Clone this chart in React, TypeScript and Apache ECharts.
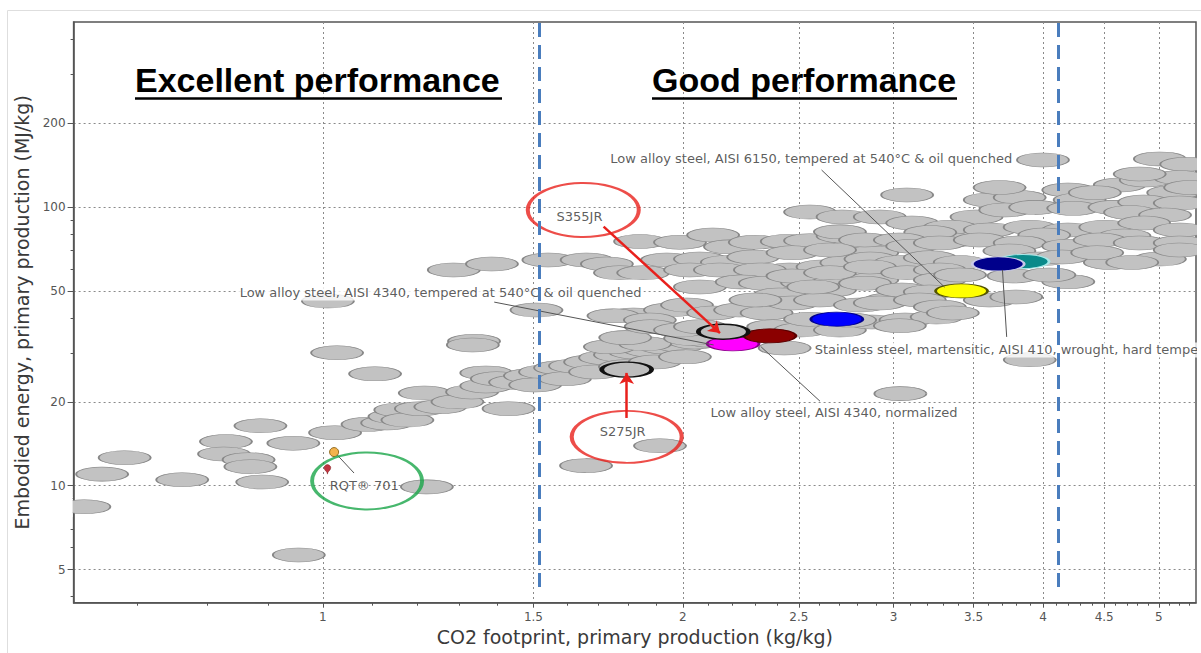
import React, { useEffect, useRef } from "react";
import * as echarts from "echarts";

// ---------- axes ----------
const xMajorTicks = [1, 1.5, 2, 2.5, 3, 3.5, 4, 4.5, 5];
const xMinorTicks = [0.7, 0.8, 0.9, 1.1, 1.2, 1.3, 1.4, 1.6, 1.7, 1.8, 1.9, 2.1, 2.2, 2.3, 2.4, 2.6, 2.7, 2.8, 2.9, 3.1, 3.2, 3.3, 3.4, 3.6, 3.7, 3.8, 3.9, 4.1, 4.2, 4.3, 4.4, 4.6, 4.7, 4.8, 4.9, 5.1, 5.2, 5.3];
const yMajorTicks = [5, 10, 20, 50, 100, 200];
const yMinorTicks = [4, 6, 7, 8, 9, 30, 40, 60, 70, 80, 90, 300, 400];
const xRange = [0.619, 5.37];
const yRange = [3.8, 462];
const xTitle = "CO2 footprint, primary production (kg/kg)";
const yTitle = "Embodied energy, primary production (MJ/kg)";

// performance boundaries (CO2 footprint) and their vertical extent (MJ/kg)
const boundaries = [1.518, 4.12];
const boundarySpan = [4.33, 462];

// ---------- materials: [CO2 kg/kg, energy MJ/kg] ----------
const grayLow: [number, number][] = [
  [0.632, 8.4], [0.654, 11.0], [0.683, 12.6], [0.763, 10.5], [0.83, 14.4], [0.827, 13.0],
  [0.867, 12.4], [0.87, 11.7], [0.887, 16.4], [0.89, 10.3], [0.945, 14.2], [1.024, 15.5],
  [0.955, 5.64], [1.028, 30.0], [1.106, 25.2], [1.222, 9.9], [1.338, 33.0], [1.335, 32.0],
  [1.37, 25.4], [1.01, 46], [1.287, 59.5], [1.385, 62.5], [1.544, 64.6], [1.662, 64.6],
  [1.728, 62.5], [1.772, 58.1], [1.853, 58.1], [1.509, 42.7], [1.914, 13.9], [1.66, 11.8],
  [3.04, 21.4], [3.9, 28.3], [3.08, 110.6], [4.0, 147.7], [5.01, 149], [5.27, 142.5],
];
const grayBand: [number, number][] = [
  [1.09, 16.6], [1.132, 16.8], [1.148, 17.7], [1.161, 18.7], [1.177, 17.2], [1.208, 18.9],
  [1.217, 21.5], [1.254, 19.2], [1.296, 20.0], [1.333, 21.7], [1.37, 22.8], [1.398, 24.2],
  [1.43, 18.9], [1.448, 23.5], [1.49, 24.8], [1.534, 25.6], [1.505, 23.0], [1.579, 26.5],
  [1.594, 24.2], [1.625, 26.9], [1.673, 27.8], [1.689, 25.6], [1.722, 28.8], [1.772, 29.5],
  [1.789, 26.7], [1.824, 30.2], [1.877, 30.7], [1.895, 27.8], [1.932, 31.5], [1.989, 32.0],
  [2.008, 29.0], [2.047, 32.8], [2.107, 33.3], [1.738, 31.5], [1.86, 32.3], [2.028, 33.8],
];
const grayMid: [number, number][] = [
  [1.842, 75.3], [1.989, 74.8], [2.12, 79.4], [2.19, 72.0], [2.297, 74.8], [2.443, 75.3], [2.555, 75.8], [2.72, 78.8],
  [1.94, 64.6], [2.067, 65.1], [2.177, 63.3], [2.29, 66.2], [2.028, 59.5], [2.458, 59.5], [2.617, 61.0], [2.74, 63.2], [2.88, 68.6],
  [2.148, 59.5], [2.32, 59.5],
  [2.067, 51.7], [2.24, 53.9], [2.342, 53.3], [2.54, 53.6], [2.706, 54.8], [2.88, 54.8], [2.655, 50.4], [2.41, 48.4],
  [1.82, 41.0], [1.951, 42.7], [2.016, 44.5], [2.12, 41.7], [2.233, 42.7], [2.35, 41.7], [2.472, 45.3],
  [2.604, 46.4], [2.812, 44.5], [2.979, 46.4], [1.75, 40.7], [1.877, 39.3], [2.3, 46.4],
  [1.79, 34.0], [1.88, 37.2], [1.989, 36.2], [2.067, 37.2], [2.38, 37.2], [2.506, 36.2], [2.706, 36.2],
  [2.88, 38.7], [3.07, 39.3], [3.26, 40.3], [2.433, 31.2], [2.76, 39.3], [2.555, 39.6],
];
const grayHigh: [number, number][] = [
  [3.611, 106.1], [3.825, 108.3], [4.2, 115.2], [4.293, 106.1], [4.638, 120.1], [4.875, 125.1], [5.205, 127.7], [5.14, 112.7], [4.819, 131.5],
  [3.68, 117.6], [4.42, 112.7], [5.31, 117.6],
  [2.555, 96.0], [2.72, 92.2], [2.922, 92.2], [3.52, 92.2], [3.72, 97.7], [3.94, 99.8], [4.24, 99.0], [4.59, 99.8], [4.86, 104.3], [5.205, 103.4],
  [4.73, 95.7], [5.06, 93.7],
  [2.706, 81.5], [2.84, 76.2], [3.11, 87.7], [3.344, 84.7], [3.611, 82.8], [3.899, 84.7], [4.2, 82.8], [4.51, 84.7], [4.86, 87.7], [5.205, 82.8], [3.363, 76.2],
  [4.01, 79.4], [4.68, 78.8], [3.22, 81.1],
  [2.47, 68.6], [2.655, 70.2], [3.037, 76.2], [3.11, 72.4], [3.28, 74.4], [3.542, 76.2], [3.825, 74.4], [4.2, 72.4], [4.461, 76.2], [4.819, 74.4], [5.205, 74.4],
  [3.75, 69.6], [4.55, 63.3], [5.01, 65.1], [2.87, 65.1], [3.04, 63.3],
  [3.217, 65.8], [3.408, 63.3], [3.975, 65.1], [4.15, 66.2], [4.44, 68.6], [4.75, 63.3], [5.205, 70.2],
  [2.47, 56.6], [2.655, 58.1], [2.867, 61.0], [3.08, 58.1], [3.28, 59.5], [3.28, 54.8], [3.78, 56.6], [4.2, 54.0],
  [3.41, 57.1], [4.05, 57.1],
  [2.57, 51.7], [2.84, 53.3], [3.05, 50.4], [3.217, 49.6], [3.611, 46.4], [3.8, 47.6],
  [2.922, 45.3], [3.156, 46.4], [3.28, 43.8], [3.037, 37.5], [3.363, 41.7],
];
// S355JR and S275JR themselves (grey, circled)
const grayMarked: [number, number][] = [[2.162, 35.7], [1.795, 26.1]];

// highlighted grades
const highlightNames = ["AISI 4340 tempered", "AISI 4340 normalized", "Low alloy steel (blue)", "AISI 6150 tempered", "AISI 410 (teal)", "AISI 410 hard tempered"];
const highlightCO2 = [2.203, 2.365, 2.69, 3.42, 3.85, 3.67];
const highlightEnergy = [32.3, 34.5, 39.6, 50.0, 63.8, 62.5];

// RQT 701 markers
const rqtCO2 = [1.022, 1.009];
const rqtEnergy = [13.2, 11.0];

// callout texts and their anchors
const calloutTexts = [
  "Low alloy steel, AISI 6150, tempered at 540°C & oil quenched",
  "Low alloy steel, AISI 4340, tempered at 540°C & oil quenched",
  "Stainless steel, martensitic, AISI 410, wrought, hard tempe",
  "Low alloy steel, AISI 4340, normalized",
];
const calloutAnchors: [number, number][] = [[1.731, 148.9], [0.848, 49.2], [2.565, 30.7], [2.099, 18.3]];
const leaderLines: [number, number][][] = [
  [[2.612, 135.9], [3.31, 51.6]],
  [[1.391, 45.6], [2.122, 32.0]],
  [[3.7, 59.5], [3.73, 34.2]],
  [[2.325, 31.5], [2.604, 20.1]],
  [[1.028, 12.9], [1.062, 11.1]],
];
const gradeTexts = ["S355JR", "S275JR", "RQT® 701"];
const gradeTextAt: [number, number][] = [[1.639, 92.2], [1.781, 15.6], [1.083, 10.0]];
const gradeRings: [number, number][] = [[1.651, 97.7], [1.795, 14.97], [1.089, 10.4]];
const gradeArrows: [number, number][][] = [
  [[1.717, 85.1], [2.148, 35.3]],
  [[1.795, 17.5], [1.795, 25.4]],
];

const L = (v: number) => Math.log10(v);
const P = (p: [number, number]) => [L(p[0]), L(p[1])];
const fmt = (ticks: number[]) => (v: number) => {
  const t = ticks.find((k) => Math.abs(L(k) - v) < 1e-6);
  return t === undefined ? "" : String(t);
};

const FONT = "'DejaVu Sans', Verdana, sans-serif";

export default function App() {
  const ref = useRef<HTMLDivElement>(null);
  useEffect(() => {
    document.body.style.margin = "0";
    document.body.style.overflow = "hidden";
    const chart = echarts.init(ref.current!, null, { renderer: "svg" });

    const highlightStyle: Record<string, [string, string]> = {
      "AISI 4340 tempered": ["#ff00ff", "#8a008a"],
      "AISI 4340 normalized": ["#8b0000", "#5a0000"],
      "Low alloy steel (blue)": ["#0000ff", "#000090"],
      "AISI 6150 tempered": ["#ffff00", "#555500"],
      "AISI 410 (teal)": ["#0a8a8a", "#a8e8e8"],
      "AISI 410 hard tempered": ["#00008b", "#c8c8e8"],
    };

    const axisLineStyle = { color: "#555", width: 1.5 };
    const option: any = {
      animation: false,
      textStyle: { fontFamily: FONT },
      grid: {
        left: 73.6, top: 22, right: 5, bottom: 50.3,
        show: true, borderColor: "#555", borderWidth: 1.5, backgroundColor: "#fff",
        outerBoundsMode: "none", containLabel: false,
      },
      xAxis: [
        {
          type: "value", min: L(xRange[0]), max: L(xRange[1]),
          name: xTitle, nameLocation: "middle", nameGap: 24,
          nameTextStyle: { fontSize: 19, color: "#3a3a3a", fontFamily: FONT },
          axisLine: { show: true, onZero: false, lineStyle: axisLineStyle },
          axisTick: { show: true, customValues: xMajorTicks.map(L), length: 5, lineStyle: { color: "#555" } },
          axisLabel: { customValues: xMajorTicks.map(L), formatter: fmt(xMajorTicks), color: "#555", fontSize: 12, margin: 8, fontFamily: FONT },
          splitLine: { show: true, lineStyle: { color: "#8a8a8a", type: [2, 3], width: 1 } },
        },
        {
          type: "value", min: L(xRange[0]), max: L(xRange[1]), position: "bottom",
          axisLine: { show: false, onZero: false },
          axisTick: { show: true, customValues: xMinorTicks.map(L), length: 3, lineStyle: { color: "#555" } },
          axisLabel: { show: false },
          splitLine: { show: false },
        },
      ],
      yAxis: [
        {
          type: "value", min: L(yRange[0]), max: L(yRange[1]),
          name: yTitle, nameLocation: "middle", nameGap: 31,
          nameTextStyle: { fontSize: 19, color: "#3a3a3a", fontFamily: FONT },
          axisLine: { show: true, onZero: false, lineStyle: axisLineStyle },
          axisTick: { show: true, customValues: yMajorTicks.map(L), length: 6, lineStyle: { color: "#555" } },
          axisLabel: { customValues: yMajorTicks.map(L), formatter: fmt(yMajorTicks), color: "#555", fontSize: 12, margin: 8, fontFamily: FONT },
          splitLine: { show: true, lineStyle: { color: "#8a8a8a", type: [2, 3], width: 1 } },
        },
        {
          type: "value", min: L(yRange[0]), max: L(yRange[1]), position: "left",
          axisLine: { show: false, onZero: false },
          axisTick: { show: true, customValues: yMinorTicks.map(L), length: 3, lineStyle: { color: "#555" } },
          axisLabel: { show: false },
          splitLine: { show: false },
        },
      ],
      series: [
        {
          type: "scatter", name: "materials", z: 2, silent: true,
          symbol: "circle", symbolSize: [52, 14],
          itemStyle: { color: "#c2c2c2", borderColor: "#878787", borderWidth: 1, opacity: 1 },
          data: [...grayLow, ...grayBand, ...grayMid, ...grayHigh].map(P),
        },
        {
          type: "scatter", name: "highlighted", z: 3, silent: true,
          symbol: "circle", symbolSize: [52, 14],
          data: highlightNames.map((n, i) => ({
            name: n,
            value: P([highlightCO2[i], highlightEnergy[i]]),
            itemStyle: { color: highlightStyle[n][0], borderColor: highlightStyle[n][1], borderWidth: 1.5, opacity: 1 },
          })),
        },
        {
          type: "scatter", name: "rqt", z: 3, silent: true,
          data: [
            { value: P([rqtCO2[0], rqtEnergy[0]]), symbol: "circle", symbolSize: 9, itemStyle: { color: "#f0a020", borderColor: "#7a5200", borderWidth: 1 } },
            { value: P([rqtCO2[1], rqtEnergy[1]]), symbol: "pin", symbolSize: 11, itemStyle: { color: "#b00010", borderColor: "#600", borderWidth: 0.5 } },
          ],
        },
        {
          type: "lines", coordinateSystem: "cartesian2d", z: 4, silent: true,
          lineStyle: { color: "#555", width: 1, opacity: 1 },
          symbol: "none",
          data: leaderLines.map((l) => ({ coords: l.map((p) => P(p)) })),
        },
        {
          type: "scatter", name: "callouts", z: 5, silent: true,
          symbolSize: 1, itemStyle: { color: "rgba(0,0,0,0)" },
          data: calloutTexts.map((t, i) => ({
            value: P(calloutAnchors[i]),
            label: {
              show: true, formatter: t, position: "right", distance: 0,
              color: "#333", fontSize: 13, fontFamily: FONT,
              backgroundColor: "#fff", padding: [1, 2],
            },
          })),
        },
        {
          type: "scatter", name: "gradeRings", z: 6, silent: true,
          symbol: "circle",
          data: [
            { value: P(gradeRings[0]), symbolSize: [111, 54], itemStyle: { color: "rgba(0,0,0,0)", borderColor: "#e8201c", borderWidth: 2.8 } },
            { value: P(gradeRings[1]), symbolSize: [110, 52], itemStyle: { color: "rgba(0,0,0,0)", borderColor: "#e8201c", borderWidth: 2.8 } },
            { value: P(gradeRings[2]), symbolSize: [110, 57], itemStyle: { color: "rgba(0,0,0,0)", borderColor: "#19a548", borderWidth: 2.8 } },
          ],
        },
        {
          type: "scatter", name: "circledGrades", z: 6, silent: true,
          symbol: "circle", symbolSize: [50, 15],
          itemStyle: { color: "#bdbdbd", borderColor: "#111", borderWidth: 2.6, opacity: 1 },
          data: grayMarked.map(P),
        },
        {
          type: "scatter", name: "gradeTexts", z: 6, silent: true,
          symbolSize: 1, itemStyle: { color: "rgba(0,0,0,0)" },
          data: gradeTexts.map((t, i) => ({
            value: P(gradeTextAt[i]),
            label: { show: true, formatter: t, position: "inside", color: "#333", fontSize: 13, fontFamily: FONT },
          })),
        },
        {
          type: "lines", coordinateSystem: "cartesian2d", z: 7, silent: true,
          lineStyle: { color: "#e8201c", width: 2.5, opacity: 1 },
          symbol: ["none", "arrow"], symbolSize: 11,
          data: gradeArrows.map((l) => ({ coords: l.map((p) => P(p)) })),
        },
        {
          type: "lines", coordinateSystem: "cartesian2d", z: 8, silent: true,
          lineStyle: { color: "#4a7dbd", width: 3, type: [14, 8], opacity: 1 },
          symbol: "none",
          data: boundaries.map((b) => ({ coords: [P([b, boundarySpan[0]]), P([b, boundarySpan[1]])] })),
        },
      ],
      graphic: [
        { type: "rect", z: -10, silent: true, shape: { x: 7.5, y: 10.5, width: 1300, height: 700 }, style: { fill: "none", stroke: "#dedede", lineWidth: 1 } },
        { type: "rect", z: 100, silent: true, shape: { x: 1197, y: 15, width: 10, height: 640 }, style: { fill: "#fff" } },
        { type: "rect", z: 100, silent: true, shape: { x: 40, y: 497, width: 32.6, height: 20 }, style: { fill: "#fff" } },
        { type: "text", z: 50, silent: true, x: 135, y: 80, style: { text: "Excellent performance", font: "bold 34px 'Liberation Sans', Arial, sans-serif", fill: "#000", textAlign: "left", textVerticalAlign: "middle" } },
        { type: "text", z: 50, silent: true, x: 652, y: 80, style: { text: "Good performance", font: "bold 34px 'Liberation Sans', Arial, sans-serif", fill: "#000", textAlign: "left", textVerticalAlign: "middle" } },
        { type: "line", z: 50, silent: true, shape: { x1: 135, y1: 98.5, x2: 502, y2: 98.5 }, style: { stroke: "#000", lineWidth: 2.5 } },
        { type: "line", z: 50, silent: true, shape: { x1: 652, y1: 98.5, x2: 957, y2: 98.5 }, style: { stroke: "#000", lineWidth: 2.5 } },
      ],
    };
    chart.setOption(option);
    return () => chart.dispose();
  }, []);
  return <div ref={ref} style={{ width: 1201, height: 653 }} />;
}
